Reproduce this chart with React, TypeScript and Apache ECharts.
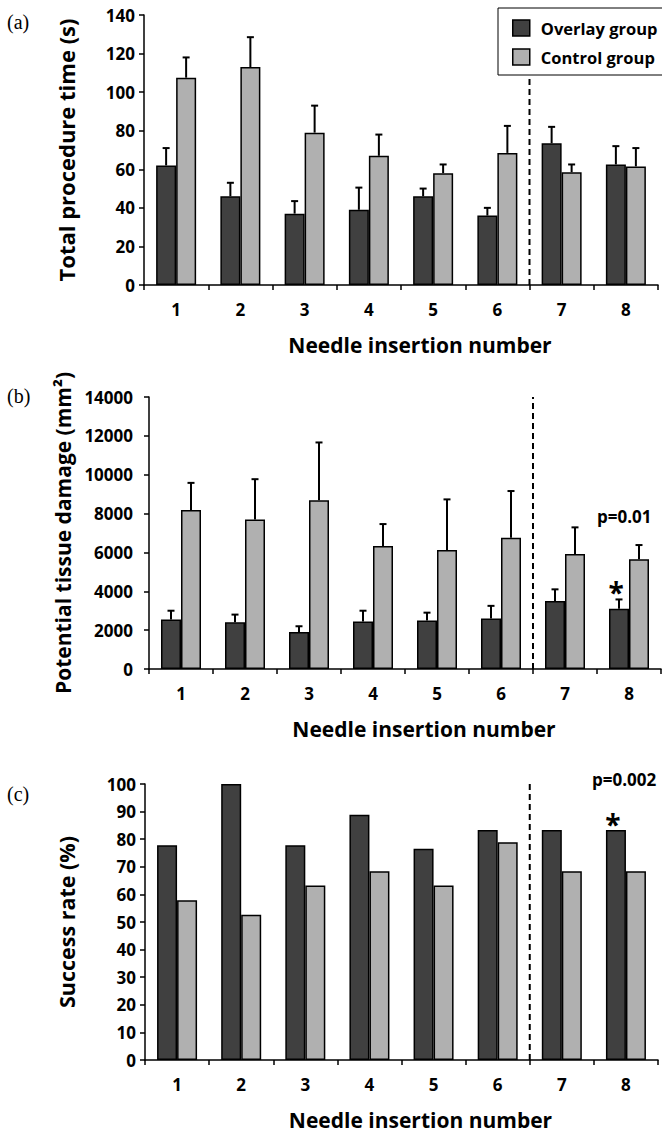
import React, { useEffect, useRef } from "react";
import * as echarts from "echarts";

const categories = ["1", "2", "3", "4", "5", "6", "7", "8"];

// (a) Total procedure time (s): means and SD
const timeOverlay = [62, 46, 37, 39, 46, 36, 73.5, 62.5];
const timeOverlaySd = [9, 7, 6.5, 11.5, 4, 4, 8.5, 9.5];
const timeControl = [107.5, 113, 79, 67, 58, 68.5, 58.5, 61.5];
const timeControlSd = [10.5, 15.5, 14, 11, 4.5, 14, 4, 9.5];

// (b) Potential tissue damage (mm²)
const areaOverlay = [2550, 2400, 1900, 2450, 2500, 2600, 3500, 3100];
const areaOverlaySd = [450, 400, 300, 550, 400, 650, 600, 480];
const areaControl = [8180, 7700, 8680, 6330, 6130, 6760, 5920, 5650];
const areaControlSd = [1400, 2070, 2980, 1130, 2600, 2400, 1370, 730];

// (c) Success rate (%)
const successOverlay = [77.8, 100, 77.8, 88.9, 76.5, 83.3, 83.3, 83.3];
const successControl = [57.9, 52.6, 63.2, 68.4, 63.2, 78.9, 68.4, 68.4];

// dashed separator (between insertion 6 and 7) top values per panel
const separatorTop = [107, 14000, 100];

const yTicks = [
  { min: 0, max: 140, interval: 20 },
  { min: 0, max: 14000, interval: 2000 },
  { min: 0, max: 100, interval: 10 },
];

const yTitles = ["Total procedure time (s)", "Potential tissue damage (mm²)", "Success rate (%)"];
const xTitle = "Needle insertion number";
const seriesNames = ["Overlay group", "Control group"];
const pValues = ["p=0.01", "p=0.002"];

const FONT = "'Open Sans', sans-serif";
const DARK = "#404040";
const LIGHT = "#b0b0b0";
const BAR_W = 20;

export default function App() {
  const ref = useRef<HTMLDivElement>(null);

  useEffect(() => {
    document.body.style.margin = "0";
    const chart = echarts.init(ref.current!, null, { renderer: "svg" });

    const grids = [
      { left: 144, top: 15, width: 514, height: 270 },
      { left: 149, top: 397, width: 512, height: 272 },
      { left: 145, top: 784, width: 513, height: 276 },
    ];
    const yTitleSize = [22, 21, 21.5];
    const yTitleGap = [67, 73, 68];

    const xAxes: any[] = [];
    const yAxes: any[] = [];
    grids.forEach((g, i) => {
      xAxes.push({
        type: "category",
        gridIndex: i,
        data: categories,
        axisLine: { lineStyle: { color: "#000", width: 1.5 } },
        axisTick: { show: true, length: 5, lineStyle: { color: "#000", width: 1.5 } },
        axisLabel: { color: "#000", fontFamily: FONT, fontWeight: "bold", fontSize: 17, margin: 16 },
        name: xTitle,
        nameLocation: "middle",
        nameGap: 49,
        nameTextStyle: { color: "#000", fontFamily: FONT, fontWeight: "bold", fontSize: 21, padding: [0, 0, 0, 38] },
      });
      yAxes.push({
        type: "value",
        gridIndex: i,
        min: yTicks[i].min,
        max: yTicks[i].max,
        interval: yTicks[i].interval,
        splitLine: { show: false },
        axisLine: { show: true, lineStyle: { color: "#000", width: 1.5 } },
        axisTick: { show: true, length: 5, lineStyle: { color: "#000", width: 1.5 } },
        axisLabel: {
          color: "#000",
          fontFamily: FONT,
          fontWeight: "bold",
          fontSize: 17,
          margin: i === 1 ? 16 : 9,
          formatter: (v: number) => String(v),
        },
        name: yTitles[i],
        nameLocation: "middle",
        nameRotate: 90,
        nameGap: yTitleGap[i],
        nameTextStyle: { color: "#000", fontFamily: FONT, fontWeight: "bold", fontSize: yTitleSize[i] },
      });
    });
    grids.forEach((g, i) => {
      xAxes.push({ type: "value", gridIndex: i, min: 0, max: 8, show: false });
    });

    const errorBar = (name: string, gi: number, means: number[], sds: number[], offset: number) => ({
      type: "custom",
      name,
      xAxisIndex: gi,
      yAxisIndex: gi,
      z: 5,
      silent: true,
      encode: { x: 0, y: 1 },
      data: categories.map((_, k) => [k, means[k], sds[k]]),
      renderItem: (params: any, api: any) => {
        const idx = api.value(0);
        const mean = api.value(1);
        const sd = api.value(2);
        const b = api.coord([idx, mean]);
        const t = api.coord([idx, mean + sd]);
        const x = b[0] + offset;
        return {
          type: "group",
          children: [
            { type: "line", shape: { x1: x, y1: b[1], x2: x, y2: t[1] }, style: { stroke: "#000", lineWidth: 2 } },
            { type: "line", shape: { x1: x - 3.5, y1: t[1], x2: x + 3.5, y2: t[1] }, style: { stroke: "#000", lineWidth: 2 } },
          ],
        };
      },
    });

    const bar = (name: string, gi: number, values: any[], color: string) => ({
      type: "bar",
      name,
      xAxisIndex: gi,
      yAxisIndex: gi,
      barWidth: BAR_W,
      barGap: "0%",
      z: 3,
      itemStyle: { color, borderColor: "#000", borderWidth: 1.5 },
      data: values,
    });

    const starLabel = (dy: number) => ({
      show: true,
      position: "top",
      formatter: "*",
      color: "#000",
      fontFamily: FONT,
      fontWeight: "bold",
      fontSize: 28,
      offset: [-3, dy],
    });

    const areaOverlayData: any[] = areaOverlay.map((v, k) => (k === 7 ? { value: v, label: starLabel(2) } : v));
    const successOverlayData: any[] = successOverlay.map((v, k) => (k === 7 ? { value: v, label: starLabel(13) } : v));

    const sep = (gi: number) => ({
      type: "line",
      xAxisIndex: 3 + gi,
      yAxisIndex: gi,
      symbol: "none",
      silent: true,
      z: 4,
      lineStyle: { color: "#000", width: 2, type: [6, 4] },
      data: [
        [6, 0],
        [6, separatorTop[gi]],
      ],
    });

    const series: any[] = [
      bar(seriesNames[0], 0, timeOverlay, DARK),
      bar(seriesNames[1], 0, timeControl, LIGHT),
      errorBar(seriesNames[0], 0, timeOverlay, timeOverlaySd, -BAR_W / 2),
      errorBar(seriesNames[1], 0, timeControl, timeControlSd, BAR_W / 2),
      sep(0),
      bar(seriesNames[0], 1, areaOverlayData, DARK),
      bar(seriesNames[1], 1, areaControl, LIGHT),
      errorBar(seriesNames[0], 1, areaOverlay, areaOverlaySd, -BAR_W / 2),
      errorBar(seriesNames[1], 1, areaControl, areaControlSd, BAR_W / 2),
      sep(1),
      bar(seriesNames[0], 2, successOverlayData, DARK),
      bar(seriesNames[1], 2, successControl, LIGHT),
      sep(2),
    ];

    const panelLabel = (text: string, y: number) => ({
      type: "text",
      left: 7,
      top: y,
      style: { text, fontFamily: "'Liberation Serif', 'DejaVu Serif', serif", fontSize: 20, fill: "#000" },
    });
    const pText = (text: string, x: number, y: number) => ({
      type: "text",
      left: x,
      top: y,
      style: { text, fontFamily: FONT, fontWeight: "bold", fontSize: 17, fill: "#000" },
    });

    chart.setOption({
      animation: false,
      backgroundColor: "#fff",
      grid: grids,
      xAxis: xAxes,
      yAxis: yAxes,
      legend: {
        data: seriesNames,
        orient: "vertical",
        left: 498,
        top: 8,
        padding: [11, 6, 9, 14],
        itemGap: 11,
        itemWidth: 17,
        itemHeight: 16,
        icon: "rect",
        borderColor: "#000",
        borderWidth: 1,
        backgroundColor: "#fff",
        selectedMode: false,
        itemStyle: { borderColor: "#000", borderWidth: 1.5 },
        textStyle: { color: "#000", fontFamily: FONT, fontWeight: "bold", fontSize: 16.5, padding: [0, 0, 0, 6], lineHeight: 18 },
      },
      graphic: [
        panelLabel("(a)", 12),
        panelLabel("(b)", 386),
        panelLabel("(c)", 784),
        pText(pValues[0], 597, 508),
        pText(pValues[1], 592, 771),
      ],
      series,
    });

    return () => chart.dispose();
  }, []);

  return <div ref={ref} style={{ width: 662, height: 1133 }} />;
}
